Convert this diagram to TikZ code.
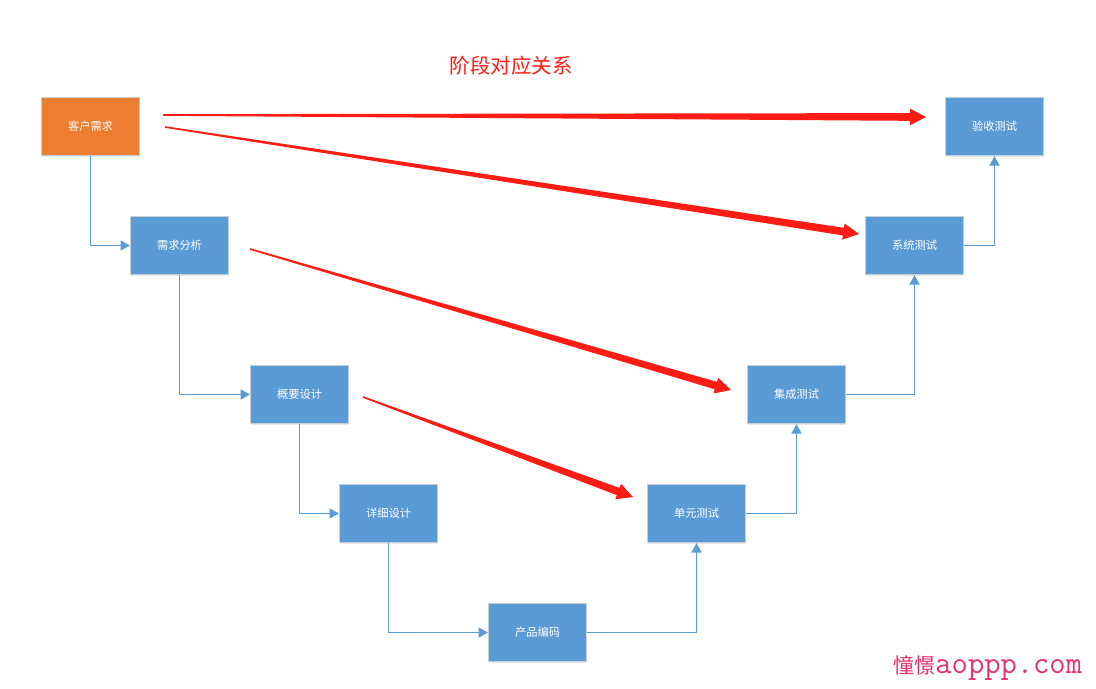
\documentclass[tikz,border=0pt]{standalone}
\usepackage{fontspec}
\setmainfont{Noto Sans CJK SC}
\usepackage{xcolor}
\usepackage{tikz}
\usetikzlibrary{arrows.meta,calc,shadows}

\definecolor{boxblue}{HTML}{5B9BD5}
\definecolor{boxorange}{HTML}{ED7D31}
\definecolor{boxedge}{HTML}{C3CFDB}
\definecolor{stagered}{HTML}{FF1C14}
\definecolor{markpink}{HTML}{E8306C}

% tapered red arrow from #1 to #2
\newcommand{\stagearrow}[2]{%
  \path ($(#2)!13.5pt!(#1)$) coordinate (sa-neck);
  \fill[stagered] ($(#1)!0.7pt!90:(#2)$) -- ($(sa-neck)!3.3pt!90:(#2)$)
    -- ($(sa-neck)!7pt!90:(#2)$) -- (#2) -- ($(sa-neck)!7pt!-90:(#2)$)
    -- ($(sa-neck)!3.3pt!-90:(#2)$) -- ($(#1)!0.7pt!-90:(#2)$) -- cycle;}

\tikzset{
  stage/.style={fill=boxblue, draw=boxedge, line width=0.6pt,
    minimum width=84pt, minimum height=50pt, text=white,
    font=\fontsize{9.6}{11}\selectfont,
    drop shadow={shadow xshift=0.6pt, shadow yshift=-1.4pt, opacity=0.18, fill=gray}},
  flow/.style={draw=boxblue, line width=1.4pt, -{Triangle[length=8pt,width=8.5pt]}}
}

\begin{document}
\begin{tikzpicture}[x=0.03cm, y=-0.03cm]
  \useasboundingbox (0,0) rectangle (1096,688);

  % Title
  \node[text=stagered, font=\fontsize{17.5}{20}\selectfont] (title) at (511,66) {阶段对应关系};

  % Left side: requirements and design
  \node[stage, fill=boxorange] (kehu) at (90.5,126.5) {客户需求};
  \node[stage] (xuqiu) at (179.5,245.5) {需求分析};
  \node[stage] (gaiyao) at (299.5,394.5) {概要设计};
  \node[stage] (xiangxi) at (388.5,513.5) {详细设计};
  \node[stage] (bianma) at (537.5,632.5) {产品编码};

  % Right side: testing
  \node[stage] (danyuan) at (696.5,513.5) {单元测试};
  \node[stage] (jicheng) at (796.5,394.5) {集成测试};
  \node[stage] (xitong) at (914.5,245.5) {系统测试};
  \node[stage] (yanshou) at (994.5,126.5) {验收测试};

  % Flow down and up
  \draw[flow] (kehu.south) |- (xuqiu.west);
  \draw[flow] (xuqiu.south) |- (gaiyao.west);
  \draw[flow] (gaiyao.south) |- (xiangxi.west);
  \draw[flow] (xiangxi.south) |- (bianma.west);
  \draw[flow] (bianma.east) -| (danyuan.south);
  \draw[flow] (danyuan.east) -| (jicheng.south);
  \draw[flow] (jicheng.east) -| (xitong.south);
  \draw[flow] (xitong.east) -| (yanshou.south);

  % Stage correspondence
  \coordinate (r1a) at (163,115); \coordinate (r1b) at (926,117);
  \coordinate (r2a) at (165,127); \coordinate (r2b) at (859,234);
  \coordinate (r3a) at (250,249); \coordinate (r3b) at (731,390);
  \coordinate (r4a) at (363,397); \coordinate (r4b) at (633,497);
  \stagearrow{r1a}{r1b}
  \stagearrow{r2a}{r2b}
  \stagearrow{r3a}{r3b}
  \stagearrow{r4a}{r4b}

  % Watermark
  \node[anchor=base west, inner sep=0pt, text=markpink] (mark) at (893,673)
    {{\fontsize{18}{20}\selectfont 憧憬}{\ttfamily\fontsize{27}{28}\selectfont aoppp.com}};
\end{tikzpicture}
\end{document}
